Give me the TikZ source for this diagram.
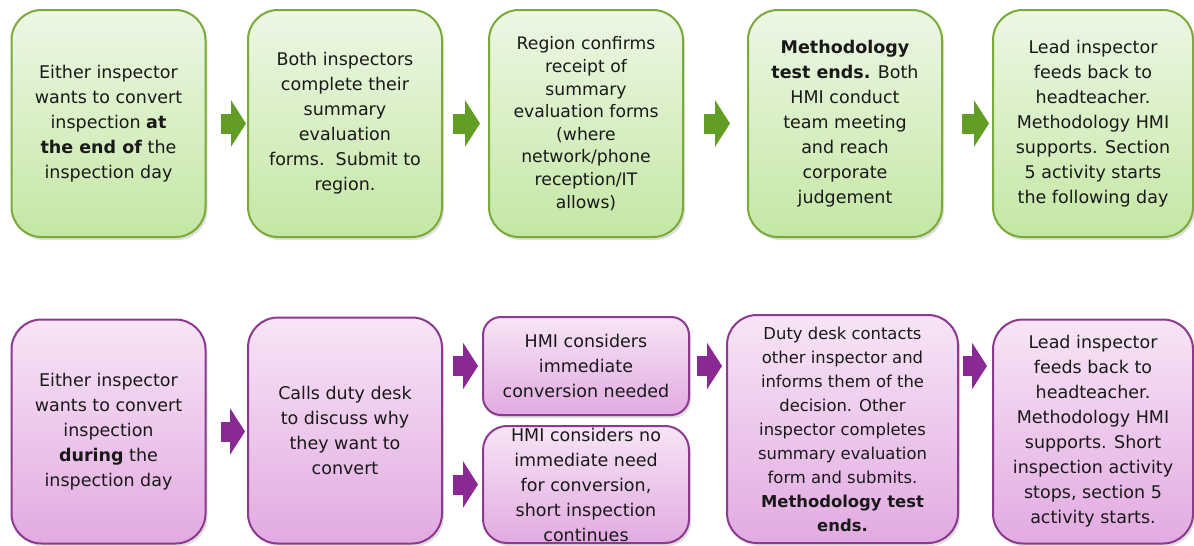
\documentclass[tikz,border=0pt]{standalone}
\usepackage{fontspec}
\setmainfont{DejaVu Sans}
\usetikzlibrary{arrows.meta,shadows}

\definecolor{gtop}{RGB}{237,247,229}
\definecolor{gbot}{RGB}{196,231,164}
\definecolor{gline}{RGB}{122,170,58}
\definecolor{garr}{RGB}{98,158,38}
\definecolor{ptop}{RGB}{247,229,246}
\definecolor{pbot}{RGB}{226,170,225}
\definecolor{pline}{RGB}{140,58,144}
\definecolor{parr}{RGB}{138,40,148}

\tikzset{
  box/.style={draw, line width=1pt, rounded corners=15pt, inner sep=0pt, align=center,
    font={\fontsize{8.75}{12.5}\selectfont}, text=black!90,
    drop shadow={shadow xshift=1pt, shadow yshift=-1.5pt, opacity=0.25}},
  gbox/.style={box, draw=gline, top color=gtop, bottom color=gbot,
    minimum width=97pt, minimum height=113.5pt},
  pbox/.style={box, draw=pline, top color=ptop, bottom color=pbot,
    minimum width=97pt, minimum height=112pt},
  blockarrow/.style={line width=10pt, -{Triangle[length=7.5pt,width=23pt]}},
  garrow/.style={blockarrow, draw=garr},
  parrow/.style={blockarrow, draw=parr}
}

\begin{document}
\begin{tikzpicture}[x=0.5pt,y=-0.5pt]
\clip (0,0) rectangle (1194,546);
\fill[white] (0,0) rectangle (1194,546);

%top row
\node[gbox] (t1) at (108.5,123.5) {Either inspector\\wants to convert\\inspection \textbf{at}\\\textbf{the end of} the\\inspection day};
\node[gbox] (t2) at (345,123.5) {Both inspectors\\complete their\\summary\\evaluation\\forms.\ \ Submit to\\region.};
\node[gbox, font={\fontsize{8.6}{11.3}\selectfont}] (t3) at (586,123.5) {Region confirms\\receipt of\\summary\\evaluation forms\\(where\\network/phone\\reception/IT\\allows)};
\node[gbox] (t4) at (845,123.5) {\textbf{Methodology}\\\textbf{test ends.} Both\\HMI conduct\\team meeting\\and reach\\corporate\\judgement};
\node[gbox, minimum width=100pt] (t5) at (1093,123.5) {Lead inspector\\feeds back to\\headteacher.\\Methodology HMI\\supports. Section\\5 activity starts\\the following day};

\draw[garrow, shorten <=7pt, shorten >=0.5pt] (t1) -- (t2);
\draw[garrow, shorten <=5pt, shorten >=4pt] (t2) -- (t3);
\draw[garrow, shorten <=10pt, shorten >=8.5pt] (t3) -- (t4);
\draw[garrow, shorten <=9.5pt, shorten >=1.5pt] (t4) -- (t5);

%bottom row
\node[pbox] (b1) at (108.5,431.5) {Either inspector\\wants to convert\\inspection\\\textbf{during} the\\inspection day};
\node[pbox, minimum height=113pt] (b2) at (345,430.5) {Calls duty desk\\to discuss why\\they want to\\convert};
\node[pbox, minimum width=103pt, minimum height=49pt, rounded corners=9pt] (b3a) at (586,366) {HMI considers\\immediate\\conversion needed};
\node[pbox, minimum width=103pt, minimum height=58.5pt, rounded corners=12pt] (b3b) at (586,484.5) {HMI considers no\\immediate need\\for conversion,\\short inspection\\continues};
\node[pbox, minimum width=115.5pt, minimum height=114pt, font={\fontsize{8.2}{12}\selectfont}] (b4) at (842.5,429) {Duty desk contacts\\other inspector and\\informs them of the\\decision. Other\\inspector completes\\summary evaluation\\form and submits.\\\textbf{Methodology test}\\\textbf{ends.}};
\node[pbox, minimum width=100pt] (b5) at (1093,431.5) {Lead inspector\\feeds back to\\headteacher.\\Methodology HMI\\supports. Short\\inspection activity\\stops, section 5\\activity starts.};

\draw[parrow, shorten <=7pt, shorten >=1pt] (b1) -- (b1 -| b2.west);
\draw[parrow, shorten <=5pt, shorten >=2pt] (b2.east |- b3a) -- (b3a);
\draw[parrow, shorten <=5pt, shorten >=2pt] (b2.east |- b3b) -- (b3b);
\draw[parrow, shorten <=3.5pt, shorten >=2pt] (b3a) -- (b3a -| b4.west);
\draw[parrow, shorten <=2pt, shorten >=2.5pt] (b4.east |- b3a) -- (b3a -| b5.west);
\end{tikzpicture}
\end{document}
